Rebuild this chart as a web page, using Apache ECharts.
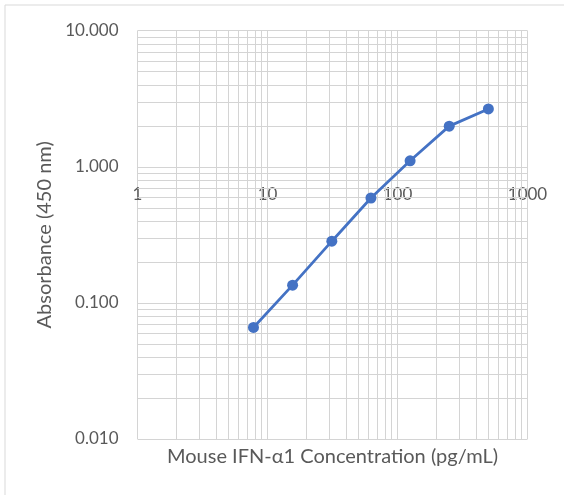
<!DOCTYPE html>
<html>
<head>
<meta charset="utf-8">
<script src="https://cdn.jsdelivr.net/npm/echarts@6/dist/echarts.min.js"></script>
<style>
  html, body { margin: 0; padding: 0; background: #ffffff; }
  #chart { width: 564px; height: 495px; }
</style>
</head>
<body>
<div id="chart"></div>
<script>
// Data
const concentrations = [7.8, 15.6, 31.25, 62.5, 125, 250, 500];
const absorbance = [0.066, 0.135, 0.284, 0.59, 1.107, 1.99, 2.66];

// Axis ranges and tick labels
const xMin = 1, xMax = 1000;
const yMin = 0.01, yMax = 10;
const xTickLabels = ['1', '10', '100', '1000'];
const yTickLabels = ['0.010', '0.100', '1.000', '10.000'];

// Minor gridline positions
const xMinor = [2, 3, 4, 5, 6, 7, 8, 9, 20, 30, 40, 50, 60, 70, 80, 90, 200, 300, 400, 500, 600, 700, 800, 900];
const yMinor = [0.02, 0.03, 0.04, 0.05, 0.06, 0.07, 0.08, 0.09, 0.2, 0.3, 0.4, 0.5, 0.6, 0.7, 0.8, 0.9, 2, 3, 4, 5, 6, 7, 8, 9];

const FONT = 'Lato';
const TEXT = '#595959';
const GRID = '#d4d4d4';

const chart = echarts.init(document.getElementById('chart'), null, { renderer: 'canvas' });

const gridLines = [];
xMinor.forEach(v => gridLines.push({ xAxis: v }));
yMinor.forEach(v => gridLines.push({ yAxis: v }));

chart.setOption({
  animation: false,
  backgroundColor: '#ffffff',
  textStyle: { fontFamily: FONT },
  graphic: [{
    type: 'rect',
    silent: true,
    shape: { x: 5, y: 5, width: 620, height: 620 },
    style: { fill: 'none', stroke: '#d9d9d9', lineWidth: 1 }
  }],
  grid: { left: 137.5, right: 36.5, top: 30.7, bottom: 56, containLabel: false },
  xAxis: {
    type: 'log',
    logBase: 10,
    min: xMin,
    max: xMax,
    position: 'bottom',
    offset: -272.3,
    axisLine: { show: false },
    axisTick: { show: false },
    axisLabel: {
      color: TEXT, fontSize: 17, fontFamily: FONT, margin: 19,
      formatter: function (v) {
        const i = Math.round(Math.log10(v));
        return xTickLabels[i] !== undefined ? xTickLabels[i] : '';
      }
    },
    splitLine: { show: true, lineStyle: { color: GRID, width: 1 } },
    name: 'Mouse IFN-\u03b11 Concentration (pg/mL)',
    nameLocation: 'middle',
    nameGap: 280,
    nameTextStyle: { color: TEXT, fontSize: 20, fontFamily: FONT }
  },
  yAxis: {
    type: 'log',
    logBase: 10,
    min: yMin,
    max: yMax,
    axisLine: { show: false },
    axisTick: { show: false },
    axisLabel: {
      color: TEXT, fontSize: 17, fontFamily: FONT, margin: 19,
      formatter: function (v) {
        const i = Math.round(Math.log10(v)) + 2;
        return yTickLabels[i] !== undefined ? yTickLabels[i] : '';
      }
    },
    splitLine: { show: true, lineStyle: { color: GRID, width: 1 } },
    name: 'Absorbance (450 nm)',
    nameLocation: 'middle',
    nameGap: 80,
    nameTextStyle: { color: TEXT, fontSize: 20, fontFamily: FONT }
  },
  series: [
    {
      name: 'minor grid',
      type: 'line',
      data: [],
      silent: true,
      z: 1,
      markLine: {
        silent: true,
        symbol: ['none', 'none'],
        label: { show: false },
        lineStyle: { color: GRID, width: 1, type: 'solid' },
        emphasis: { disabled: true },
        data: gridLines
      }
    },
    {
      name: 'Absorbance',
      type: 'line',
      z: 5,
      data: concentrations.map((c, i) => [c, absorbance[i]]),
      symbol: 'circle',
      symbolSize: 11,
      lineStyle: { color: '#4472C4', width: 2.75 },
      itemStyle: { color: '#4472C4' }
    }
  ]
});
</script>
</body>
</html>
